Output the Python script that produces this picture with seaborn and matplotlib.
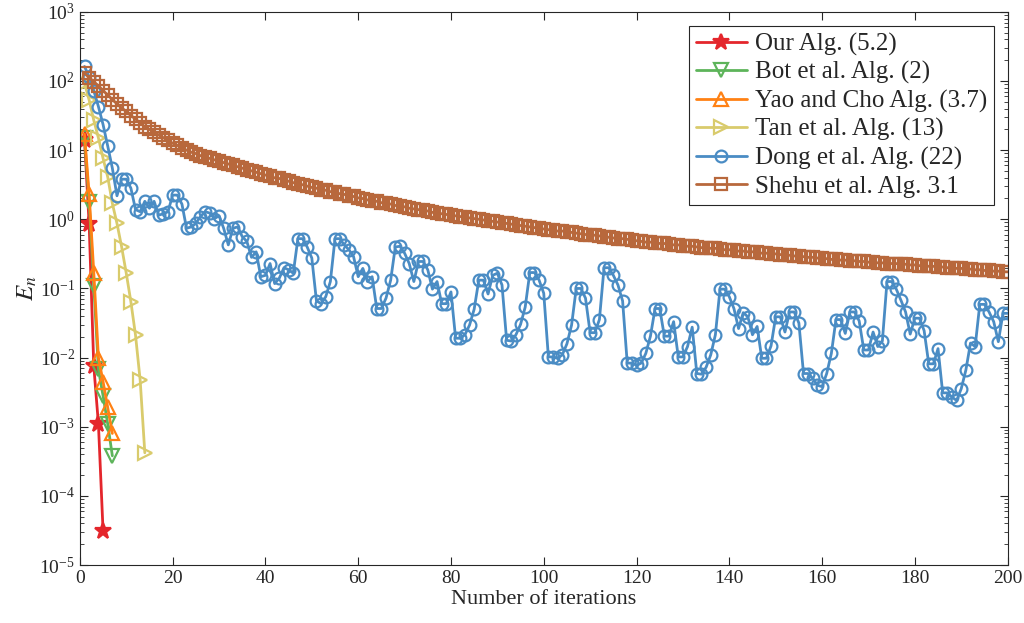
import numpy as np
import pandas as pd
import matplotlib
matplotlib.use("Agg")
import matplotlib.pyplot as plt
import seaborn as sns
from matplotlib.ticker import LogLocator, MultipleLocator, NullFormatter

# values
our_alg = [14, 0.85, 0.0075, 0.0011, 3.1e-5]
bot_alg = [15, 1.8, 0.11, 0.0068, 0.0028, 0.0011, 0.00038]
yao_alg = [17, 2.3, 0.17, 0.010, 0.0045, 0.0019, 0.0008]
tan_alg = [93, 53, 27, 15, 7.6, 4.1, 1.7, 0.87, 0.40, 0.166, 0.064, 0.021, 0.0047, 0.00042]

# Dong and Shehu read as decades (log10 of E_n) since they span 200 iterations
dong_log10 = [
    2.21, 2.06, 1.86, 1.63, 1.37, 1.06, 0.74, 0.34, 0.58, 0.58,
    0.45, 0.14, 0.11, 0.26, 0.16, 0.26, 0.06, 0.08, 0.11, 0.35,
    0.35, 0.22, -0.13, -0.11, -0.06, 0.04, 0.11, 0.09, 0.01, 0.05,
    -0.13, -0.37, -0.13, -0.11, -0.25, -0.32, -0.55, -0.47, -0.83, -0.81,
    -0.64, -0.93, -0.85, -0.70, -0.73, -0.78, -0.28, -0.28, -0.40, -0.56,
    -1.18, -1.22, -1.12, -0.90, -0.28, -0.28, -0.37, -0.44, -0.54, -0.83,
    -0.71, -0.90, -0.83, -1.29, -1.29, -1.14, -0.88, -0.40, -0.39, -0.49,
    -0.64, -0.90, -0.61, -0.61, -0.73, -1.01, -0.90, -1.22, -1.22, -1.05,
    -1.72, -1.72, -1.67, -1.53, -1.30, -0.88, -0.88, -1.08, -0.81, -0.78,
    -0.95, -1.75, -1.76, -1.67, -1.52, -1.27, -0.77, -0.77, -0.88, -1.07,
    -1.99, -1.99, -2.01, -1.96, -1.80, -1.53, -1.00, -1.00, -1.14, -1.64,
    -1.64, -1.45, -0.70, -0.70, -0.81, -0.95, -1.18, -2.08, -2.08, -2.11,
    -2.08, -1.94, -1.69, -1.29, -1.29, -1.69, -1.69, -1.48, -1.99, -1.99,
    -1.84, -1.56, -2.23, -2.24, -2.14, -1.96, -1.67, -1.01, -1.01, -1.12,
    -1.29, -1.58, -1.35, -1.41, -1.67, -1.55, -2.01, -2.01, -1.83, -1.41,
    -1.41, -1.63, -1.34, -1.34, -1.50, -2.23, -2.23, -2.30, -2.40, -2.42,
    -2.23, -1.94, -1.45, -1.45, -1.65, -1.34, -1.34, -1.47, -1.89, -1.89,
    -1.63, -1.84, -1.76, -0.90, -0.90, -1.01, -1.17, -1.34, -1.66, -1.43,
    -1.43, -1.61, -2.09, -2.09, -1.87, -2.51, -2.51, -2.57, -2.62, -2.45,
    -2.18, -1.79, -1.84, -1.23, -1.23, -1.34, -1.48, -1.77, -1.36, -1.36,
]
shehu_log10 = [
    2.11, 2.05, 1.99, 1.93, 1.86, 1.80, 1.73, 1.67, 1.61, 1.56,
    1.50, 1.45, 1.39, 1.34, 1.30, 1.26, 1.22, 1.18, 1.14, 1.10,
    1.07, 1.03, 1.00, 0.97, 0.95, 0.92, 0.90, 0.88, 0.86, 0.84,
    0.82, 0.80, 0.78, 0.76, 0.74, 0.72, 0.70, 0.68, 0.66, 0.64,
    0.62, 0.60, 0.59, 0.57, 0.55, 0.53, 0.51, 0.50, 0.48, 0.46,
    0.45, 0.43, 0.42, 0.40, 0.39, 0.37, 0.36, 0.34, 0.33, 0.31,
    0.30, 0.28, 0.27, 0.26, 0.24, 0.23, 0.22, 0.20, 0.19, 0.18,
    0.16, 0.15, 0.14, 0.13, 0.12, 0.10, 0.09, 0.08, 0.07, 0.06,
    0.05, 0.04, 0.03, 0.02, 0.01, 0.00, -0.01, -0.02, -0.03, -0.04,
    -0.05, -0.06, -0.07, -0.08, -0.09, -0.10, -0.11, -0.12, -0.13, -0.14,
    -0.15, -0.16, -0.17, -0.17, -0.18, -0.19, -0.20, -0.21, -0.22, -0.23,
    -0.23, -0.24, -0.25, -0.26, -0.27, -0.28, -0.28, -0.29, -0.30, -0.31,
    -0.32, -0.33, -0.33, -0.34, -0.35, -0.35, -0.36, -0.37, -0.37, -0.38,
    -0.39, -0.39, -0.40, -0.41, -0.41, -0.42, -0.42, -0.43, -0.44, -0.44,
    -0.45, -0.46, -0.46, -0.47, -0.47, -0.48, -0.49, -0.49, -0.50, -0.50,
    -0.51, -0.52, -0.52, -0.53, -0.53, -0.54, -0.55, -0.55, -0.56, -0.56,
    -0.57, -0.58, -0.58, -0.59, -0.59, -0.60, -0.60, -0.61, -0.61, -0.62,
    -0.62, -0.63, -0.63, -0.64, -0.64, -0.64, -0.65, -0.65, -0.66, -0.66,
    -0.67, -0.67, -0.68, -0.68, -0.69, -0.69, -0.70, -0.70, -0.71, -0.71,
    -0.72, -0.72, -0.73, -0.73, -0.74, -0.74, -0.75, -0.75, -0.76, -0.76,
]

labels = ["Our Alg. (5.2)", "Bot et al. Alg. (2)", "Yao and Cho Alg. (3.7)",
          "Tan et al. Alg. (13)", "Dong et al. Alg. (22)", "Shehu et al. Alg. 3.1"]
colors = ["#E4262C", "#5DB45A", "#FF8114", "#D9CB6C", "#4A8CC4", "#B8683C"]
markers = ["*", "v", "^", ">", "o", "s"]
y_ticks = [1e-5, 1e-4, 1e-3, 1e-2, 1e-1, 1e0, 1e1, 1e2, 1e3]

series = [our_alg, bot_alg, yao_alg, tan_alg,
          list(10 ** np.array(dong_log10)), list(10 ** np.array(shehu_log10))]

sns.set_style("ticks")
plt.rcParams["font.family"] = ["Liberation Serif", "DejaVu Serif"]
plt.rcParams["mathtext.fontset"] = "stix"

fig = plt.figure(figsize=(10.24, 6.23), dpi=100)
ax = fig.add_axes([0.078, 0.093, 0.906, 0.888])

for vals, lab, col, mk in zip(series, labels, colors, markers):
    df = pd.DataFrame({"it": np.arange(1, len(vals) + 1), "E": vals})
    filled = mk == "*"
    sns.lineplot(data=df, x="it", y="E", ax=ax, label=lab, color=col,
                 marker=mk, markersize=12 if filled else (8.5 if mk in "os" else 9.5),
                 markerfacecolor=col if filled else "none",
                 markeredgecolor=col, markeredgewidth=1.6, linewidth=2)

ax.set_yscale("log")
ax.set_xlim(0, 200)
ax.xaxis.set_major_locator(MultipleLocator(20))
ax.set_yticks(y_ticks)
ax.yaxis.set_minor_locator(LogLocator(base=10, subs=np.arange(2, 10), numticks=20))
ax.yaxis.set_minor_formatter(NullFormatter())
ax.set_ylim(1e-5, 1e3)
ax.tick_params(which="both", direction="in", top=True, right=True, labelsize=14)
ax.tick_params(which="major", length=6)
ax.tick_params(which="minor", length=3)
ax.xaxis.get_offset_text().set_visible(False)
for sp in ax.spines.values():
    sp.set_color("#262626")
    sp.set_linewidth(0.8)

ax.set_xlabel("Number of iterations", fontsize=16, labelpad=2)
ax.set_ylabel("$E_n$", fontsize=18, labelpad=0)

leg = ax.legend(loc="upper right", fontsize=18, frameon=True, fancybox=False,
                edgecolor="#262626", framealpha=1, handlelength=2.05,
                borderaxespad=0.55, labelspacing=0.22, borderpad=0.28, handletextpad=0.3)
leg.get_frame().set_linewidth(0.8)

fig.savefig("out.png", dpi=100)
